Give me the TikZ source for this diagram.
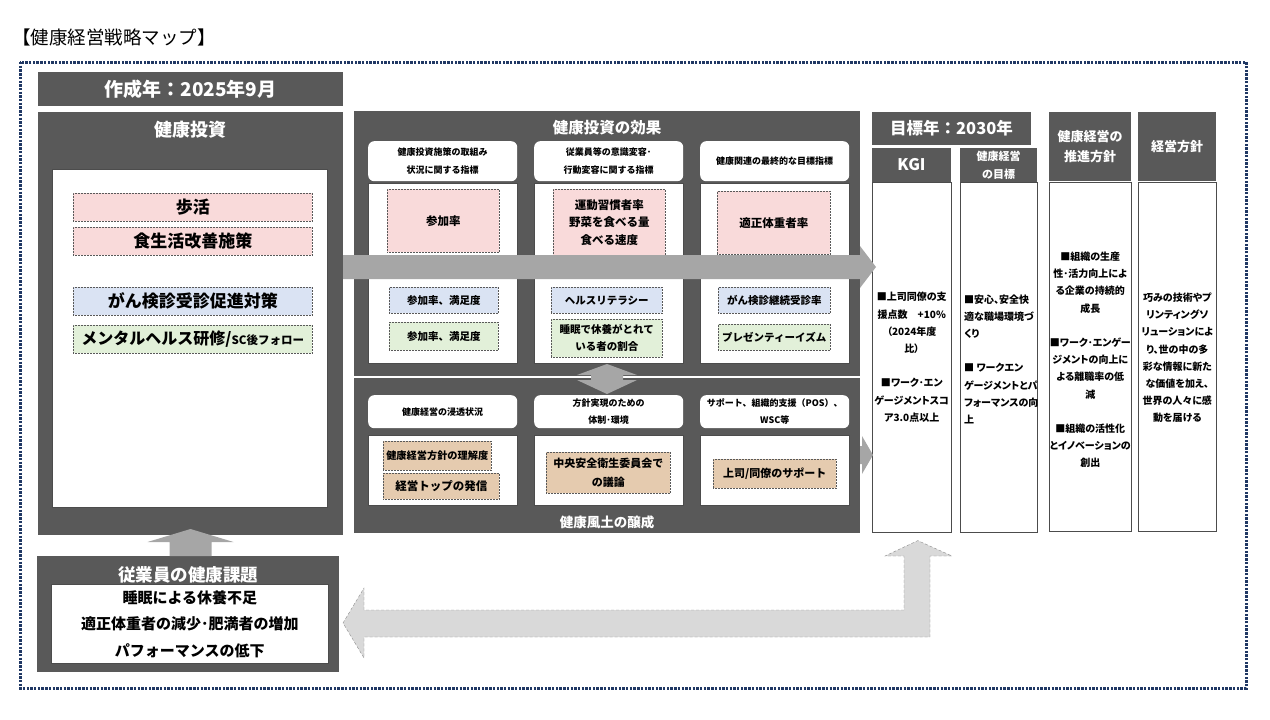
\documentclass[tikz,border=0pt]{standalone}
\usepackage{fontspec}
\setmainfont{Noto Sans CJK JP}
\newfontfamily\narrowjp{Noto Sans CJK JP}[RawFeature=+palt]
\usetikzlibrary{positioning,calc}

\definecolor{panelgray}{HTML}{595959}
\definecolor{arrowgray}{HTML}{A6A6A6}
\definecolor{pathgray}{HTML}{D9D9D9}
\definecolor{framenavy}{HTML}{203864}
\definecolor{pinkfill}{HTML}{F9DADA}
\definecolor{bluefill}{HTML}{DAE3F3}
\definecolor{greenfill}{HTML}{E2F0D9}
\definecolor{tanfill}{HTML}{E5CBAF}

\newcommand{\fsz}[2]{\fontsize{#1}{#2}\selectfont}

\tikzset{
  sz/.style 2 args={minimum width=#1pt, minimum height=#2pt},
  panel/.style={fill=panelgray, text=white, anchor=north west, inner sep=0pt, outer sep=0pt},
  sheet/.style={fill=white, draw=black!70, line width=0.6pt, anchor=north west, inner sep=0pt},
  tag/.style={fill=white, rounded corners=6pt, anchor=north west, inner sep=0pt, align=center},
  item/.style={draw=black!65, densely dotted, line width=0.5pt, anchor=north west, inner sep=0pt, align=center},
  whitetxt/.style={text=white, inner sep=0pt},
  coltext/.style={inner sep=0pt, font=\narrowjp\bfseries\fsz{10}{17.2}},
  blockarrow/.style={fill=arrowgray},
  returnarrow/.style={fill=pathgray, draw=black!45, densely dashed, line width=0.4pt},
}

\begin{document}
\begin{tikzpicture}[x=1pt,y=-1pt]
  \useasboundingbox (0,0) rectangle (1270,720);
  \node[anchor=west, inner sep=0pt, font=\fsz{18.5}{21}] (maptitle) at (12,37) {【健康経営戦略マップ】};
  \draw[framenavy, line width=3pt, dash pattern=on 2.4pt off 1.3pt] (20,62) rectangle (1246,688);

  % ---------------- 健康投資 ----------------
  \node[panel, sz={305}{34}, font=\bfseries\fsz{19}{20}] (made) at (38,72) {作成年：2025年9月};
  \node[panel, sz={305}{423}] (invest) at (38,112) {};
  \node[whitetxt, font=\bfseries\fsz{18}{20}] (investT) at (190.5,130) {健康投資};
  \node[sheet, sz={275}{338}] (investB) at (52,169) {};
  \node[item, fill=pinkfill, sz={239}{28}, font=\bfseries\fsz{17}{20}] (walk) at (73,193) {歩活};
  \node[item, fill=pinkfill, sz={239}{28}, font=\bfseries\fsz{17}{20}] (diet) at (73,227) {食生活改善施策};
  \node[item, fill=bluefill, sz={239}{28}, font=\bfseries\fsz{17}{20}] (cancer) at (73,287) {がん検診受診促進対策};
  \node[item, fill=greenfill, sz={239}{28}, font=\bfseries\fsz{16}{20}] (mental) at (73,325) {メンタルヘルス研修/{\fsz{11.5}{14}SC後フォロー}};

  % ---------------- 従業員の健康課題 ----------------
  \node[panel, sz={302}{116}] (issue) at (37,556) {};
  \node[whitetxt, font=\bfseries\fsz{17.5}{20}] (issueT) at (188,575) {従業員の健康課題};
  \node[sheet, sz={277}{79}, align=center, font=\bfseries\fsz{15}{26.5}] (issueB) at (51,584)
    {睡眠による休養不足\\適正体重者の減少･肥満者の増加\\パフォーマンスの低下};

  % ---------------- 健康投資の効果 ----------------
  \node[panel, sz={506}{265}] (effect) at (354,111) {};
  \node[whitetxt, font=\bfseries\fsz{15.5}{18}] (effectT) at (607,128) {健康投資の効果};
  \foreach \cx/\nm/\txt in {368/pA/{健康投資施策の取組み\\状況に関する指標}, 534/pB/{従業員等の意識変容･\\行動変容に関する指標}, 700/pC/{健康関連の最終的な目標指標}}{
    \node[tag, sz={149}{40}, font=\bfseries\fsz{9}{18.5}] (\nm head) at (\cx,141) {\txt};
    \node[sheet, sz={149}{180}] (\nm body) at (\cx,183) {};
  }
  \node[item, fill=pinkfill, sz={112}{63}, font=\bfseries\fsz{11.5}{17.5}] (joinA) at (387,189) {参加率};
  \node[item, fill=pinkfill, sz={112}{66}, font=\bfseries\fsz{11.5}{17.5}] (habit) at (553,189) {運動習慣者率\\野菜を食べる量\\食べる速度};
  \node[item, fill=pinkfill, sz={113}{63}, font=\bfseries\fsz{11.5}{17.5}] (weight) at (717,191) {適正体重者率};
  \node[item, fill=bluefill, sz={109}{26}, font=\bfseries\fsz{10.5}{14}] (joinB) at (389,287) {参加率、満足度};
  \node[item, fill=bluefill, sz={111}{26}, font=\bfseries\fsz{10.5}{14}] (literacy) at (551,287) {ヘルスリテラシー};
  \node[item, fill=bluefill, sz={112}{26}, font=\bfseries\fsz{10.5}{14}] (screening) at (718,287) {がん検診継続受診率};
  \node[item, fill=greenfill, sz={109}{28}, font=\bfseries\fsz{10.5}{14}] (joinC) at (389,322) {参加率、満足度};
  \node[item, fill=greenfill, sz={111}{38}, font=\bfseries\fsz{10.5}{17}] (sleep) at (551,319) {睡眠で休養がとれて\\いる者の割合};
  \node[item, fill=greenfill, sz={112}{26}, font=\bfseries\fsz{10.5}{14}] (presentee) at (718,324) {プレゼンティーイズム};

  % ---------------- 健康風土の醸成 ----------------
  \node[panel, sz={506}{155}] (culture) at (354,378) {};
  \node[whitetxt, font=\bfseries\fsz{13.5}{16}] (cultureT) at (607,522) {健康風土の醸成};
  \foreach \cx/\nm/\txt in {368/qA/{健康経営の浸透状況}, 534/qB/{方針実現のための\\体制･環境}, 700/qC/{サポート、組織的支援（POS）、\\WSC等}}{
    \node[tag, sz={149}{33}, font=\bfseries\fsz{9}{17}] (\nm head) at (\cx,395) {\txt};
    \node[sheet, sz={149}{70}] (\nm body) at (\cx,435) {};
  }
  \node[item, fill=tanfill, sz={108}{29}, font=\bfseries\fsz{10.2}{14}] (understand) at (383,441) {健康経営方針の理解度};
  \node[item, fill=tanfill, sz={116}{26}, font=\bfseries\fsz{11.5}{14}] (topmsg) at (383,473) {経営トップの発信};
  \node[item, fill=tanfill, sz={124}{41}, font=\bfseries\fsz{11}{19}] (committee) at (546,452) {中央安全衛生委員会で\\の議論};
  \node[item, fill=tanfill, sz={123}{29}, font=\bfseries\fsz{11}{14}] (support) at (713,459) {上司/同僚のサポート};

  % ---------------- 目標年・方針 ----------------
  \node[panel, sz={159}{33}, font=\bfseries\fsz{16.5}{19}] (target) at (872,112) {目標年：2030年};
  \node[panel, sz={79}{34}, font=\bfseries\fsz{16}{18}] (kgiH) at (872,148) {KGI};
  \node[sheet, sz={79}{350}] (kgiB) at (872,182) {};
  \node[panel, sz={77}{34}, align=center, font=\bfseries\fsz{11}{18}] (goalH) at (960,148) {健康経営\\の目標};
  \node[sheet, sz={77}{350}] (goalB) at (960,182) {};
  \node[panel, sz={82}{69}, align=center, font=\bfseries\fsz{13}{20}] (policyH) at (1049,112) {健康経営の\\推進方針};
  \node[sheet, sz={82}{349}] (policyB) at (1049,182) {};
  \node[panel, sz={78}{69}, font=\bfseries\fsz{13}{16}] (mgmtH) at (1138,112) {経営方針};
  \node[sheet, sz={78}{349}] (mgmtB) at (1138,182) {};

  \node[coltext, align=center] (kgiT) at (kgiB.center)
    {■上司同僚の支\\援点数　+10\%\\（2024年度\\比）\\[17.2pt]■ワーク･エン\\ゲージメントスコ\\ア3.0点以上};
  \node[coltext, align=left, anchor=west] (goalT) at ($(goalB.west)+(4,2)$)
    {■安心、安全快\\適な職場環境づ\\くり\\[17.2pt]■ ワークエン\\ゲージメントとパ\\フォーマンスの向\\上};
  \node[coltext, align=center] (policyT) at ($(policyB.center)+(0,3)$)
    {■組織の生産\\性･活力向上によ\\る企業の持続的\\成長\\[17.2pt]■ワーク･エンゲー\\ジメントの向上に\\よる離職率の低\\減\\[17.2pt]■組織の活性化\\とイノベーションの\\創出};
  \node[coltext, align=center] (mgmtT) at ($(mgmtB.center)+(0,1)$)
    {巧みの技術やプ\\リンティングソ\\リューションによ\\り、世の中の多\\彩な情報に新た\\な価値を加え、\\世界の人々に感\\動を届ける};

  % ---------------- arrows ----------------
  \fill[blockarrow] (invest.east |- 0,255) -- (effect.east |- 0,255) -- (effect.east |- 0,246)
    -- ($(kgiB.west |- 0,267)+(4,0)$) -- (effect.east |- 0,288) -- (effect.east |- 0,279)
    -- (invest.east |- 0,279) -- cycle;
  \fill[blockarrow, shift={($(effect.south)!0.5!(culture.north)$)}]
    (0,-13) -- (30,-2) -- (16,-2) -- (16,3) -- (30,3) -- (0,17) -- (-30,3) -- (-16,3) -- (-16,-2) -- (-30,-2) -- cycle;
  \fill[blockarrow] (culture.east |- 0,446) -- ++(2,0) -- ++(0,-10) -- ($(kgiB.west |- 0,455)+(1,0)$)
    -- (862,474) -- (862,464) -- (culture.east |- 0,464) -- cycle;
  \fill[blockarrow, shift={(invest.south |- issue.north)}]
    (-21,0) -- (-21,-14) -- (-43,-14) -- (0,-27) -- (43,-14) -- (21,-14) -- (21,0) -- cycle;
  \filldraw[returnarrow] ($(issue.east |- 0,623)+(4,0)$) -- (364,588) -- (364,610) -- (904,610) -- (904,556)
    -- (885,556) -- ($(kgiB.south)+(6,8)$) -- (952,556) -- (930,556) -- (930,637) -- (364,637) -- (364,658) -- cycle;
\end{tikzpicture}
\end{document}
